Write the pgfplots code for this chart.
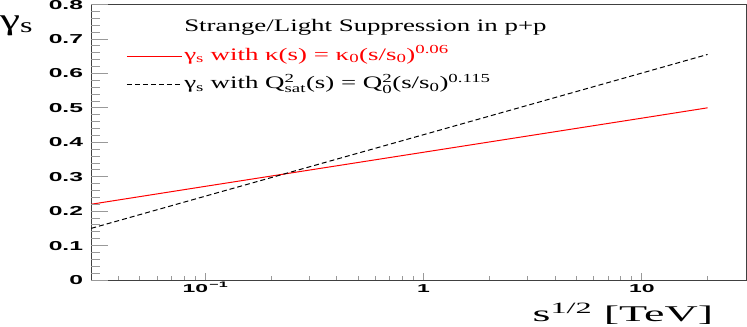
\documentclass[border=0pt]{standalone}
\usepackage{fontspec}
\usepackage{amsmath}
\setmainfont{Liberation Serif}
\newfontfamily\legfont{Liberation Serif}[FakeStretch=1.53]
\newfontfamily\labfont{Liberation Serif}[FakeStretch=2.05]
\newfontfamily\ytickfont{Liberation Sans}[FakeStretch=1.9]
\newfontfamily\xtickfont{Liberation Sans}[FakeStretch=2.0]
\usepackage{pgfplots}
\pgfplotsset{compat=1.18}

\pgfplotstableread{
x     y
0.03  0.220
0.1   0.272
1     0.371
10    0.470
20    0.500
}\kappadata
\pgfplotstableread{
x     y
0.03  0.150
0.1   0.2435
1     0.422
10    0.601
20    0.655
}\qsatdata

\begin{document}
\begin{tikzpicture}
\begin{axis}[
    name=main,
    scale only axis,
    width=656pt, height=276pt,
    xmode=log, xmin=0.03, xmax=30,
    ymin=0, ymax=0.8,
    xtick={0.1,1,10},
    xticklabels={10\textsuperscript{\,−1},1,10},
    minor xtick={0.04,0.05,0.06,0.07,0.08,0.09,0.2,0.3,0.4,0.5,0.6,0.7,0.8,0.9,2,3,4,5,6,7,8,9,20},
    ytick=\empty,
    xtick pos=bottom,
    tick align=inside,
    major tick length=7pt, minor tick length=3.5pt,
    tick style={color=black!40, line width=0.8pt},
    axis line style={black!75, line width=0.8pt},
    xticklabel style={font=\xtickfont\bfseries\fontsize{11.5}{11.5}\selectfont, anchor=north, inner sep=0pt, text height=8pt, text depth=0pt, yshift=-4pt},
    xlabel={s\textsuperscript{1/2} [TeV]},
    xlabel style={font=\labfont\fontsize{22.5}{22.5}\selectfont, at={(axis description cs:0.95,-0.150)}, anchor=base east, inner sep=0pt},
    legend cell align=left,
    legend style={at={(axis description cs:0.0534,0.9565)}, anchor=north west, draw=none, fill=none,
        font=\legfont\fontsize{17.6}{20}\selectfont, inner sep=0pt, row sep=6.5pt,
        nodes={text height=13pt, text depth=5pt, inner ysep=2pt, inner xsep=2pt}},
    legend image code/.code={\draw[#1] (0pt,0pt) -- (55pt,0pt);},
]
\addlegendimage{empty legend}
\addlegendentry{Strange/Light Suppression in p+p}
\addplot[red, line width=1pt] table[x=x, y=y] {\kappadata};
\addlegendentry{\textcolor{red}{γ\textsubscript{s} with κ(s) = κ\textsubscript{0}(s/s\textsubscript{0})\textsuperscript{0.06}}}
\addplot[black, line width=1pt, dash pattern=on 5pt off 3pt] table[x=x, y=y] {\qsatdata};
\addlegendentry{γ\textsubscript{s} with Q$^{\text{2}}_{\text{sat}}$(s) = Q$^{\text{2}}_{\text{0}}$(s/s\textsubscript{0})\textsuperscript{0.115}}
\end{axis}
\begin{axis}[
    at={(main.south west)}, anchor=south west,
    scale only axis,
    width=656pt, height=276pt,
    xmode=log, xmin=0.03, xmax=30,
    ymin=0, ymax=0.8,
    xtick=\empty,
    ytick={0,0.1,0.2,0.3,0.4,0.5,0.6,0.7,0.8},
    yticklabels={0,0.1,0.2,0.3,0.4,0.5,0.6,0.7,0.8},
    minor y tick num=4,
    ytick pos=left,
    tick align=inside,
    major tick length=17pt, minor tick length=9pt,
    tick style={color=black!40, line width=0.8pt},
    axis line style={draw=none},
    yticklabel style={font=\ytickfont\bfseries\fontsize{13}{13}\selectfont, anchor=east, inner sep=0pt, text depth=0pt, xshift=-8pt},
    ylabel={γ\textsubscript{s}},
    ylabel style={font=\legfont\fontsize{30}{30}\selectfont, rotate=-90, at={(axis description cs:-0.114,0.924)}, anchor=center, inner sep=0pt},
]
\addplot[draw=none] coordinates {(1,0.4)};
\end{axis}
\path[use as bounding box] ([shift={(-90pt,-47pt)}]main.south west) rectangle ([shift={(1pt,4pt)}]main.north east);
\end{tikzpicture}
\end{document}
